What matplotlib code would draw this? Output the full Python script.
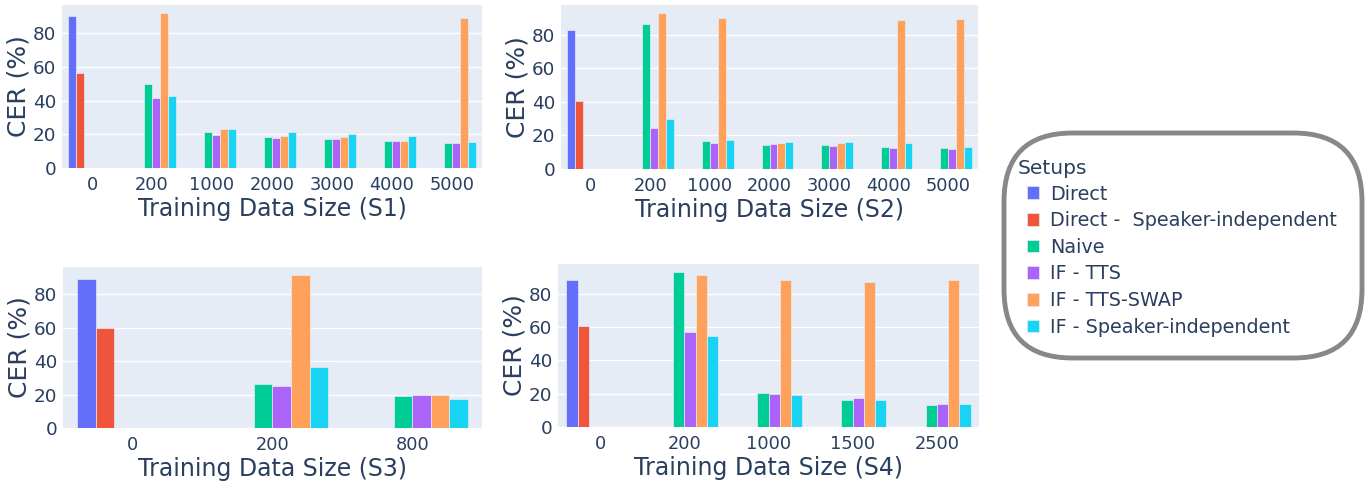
import matplotlib.pyplot as plt
import numpy as np
from matplotlib.patches import FancyBboxPatch

plt.rcParams['font.family'] = ['DejaVu Sans']

setups = ["Direct", "Direct -  Speaker-independent", "Naive", "IF - TTS",
          "IF - TTS-SWAP", "IF - Speaker-independent"]
colors = ["#636EFA", "#EF553B", "#00CC96", "#AB63FA", "#FFA15A", "#19D3F3"]

# rows follow setups order, columns follow the size labels (0 = not run)
s1_sizes = ["0", "200", "1000", "2000", "3000", "4000", "5000"]
s1_cer = [
    [90.6, 0, 0, 0, 0, 0, 0],
    [56.2, 0, 0, 0, 0, 0, 0],
    [0, 50.0, 21.4, 18.6, 17.4, 15.8, 14.8],
    [0, 41.6, 19.8, 18.0, 17.0, 16.2, 15.0],
    [0, 92.0, 23.4, 19.2, 18.4, 16.2, 89.0],
    [0, 42.6, 23.4, 21.6, 20.0, 19.0, 15.4],
]

s2_sizes = ["0", "200", "1000", "2000", "3000", "4000", "5000"]
s2_cer = [
    [83.0, 0, 0, 0, 0, 0, 0],
    [40.3, 0, 0, 0, 0, 0, 0],
    [0, 86.5, 16.9, 14.5, 14.2, 13.0, 12.4],
    [0, 24.4, 15.3, 14.7, 13.6, 12.8, 12.2],
    [0, 92.8, 90.0, 15.5, 15.5, 88.5, 89.4],
    [0, 29.5, 17.3, 16.3, 16.3, 15.5, 13.0],
]

s3_sizes = ["0", "200", "800"]
s3_cer = [
    [89.4, 0, 0],
    [60.2, 0, 0],
    [0, 26.2, 19.4],
    [0, 25.0, 19.8],
    [0, 91.6, 19.6],
    [0, 36.4, 17.6],
]

s4_sizes = ["0", "200", "1000", "1500", "2500"]
s4_cer = [
    [88.7, 0, 0, 0, 0],
    [60.5, 0, 0, 0, 0],
    [0, 93.1, 20.6, 16.1, 13.1],
    [0, 57.2, 20.0, 17.5, 13.9],
    [0, 91.3, 88.3, 87.3, 88.3],
    [0, 55.0, 19.1, 16.1, 13.9],
]

panels = [
    ("S1", s1_sizes, s1_cer, [62, 5, 420, 163]),
    ("S2", s2_sizes, s2_cer, [561, 5, 417, 164]),
    ("S3", s3_sizes, s3_cer, [63, 267, 419, 161]),
    ("S4", s4_sizes, s4_cer, [558, 264, 421, 163]),
]

W, H = 1371, 484
text_col = "#2a3f5f"
fig = plt.figure(figsize=(W / 100, H / 100), dpi=100)

handles = []
for name, sizes, cer, (px, py, pw, ph) in panels:
    ax = fig.add_axes([px / W, 1 - (py + ph) / H, pw / W, ph / H])
    ax.set_facecolor("#E5ECF6")
    x = np.arange(len(sizes))
    w = 0.8 / len(setups)
    bars = []
    for i, (vals, c) in enumerate(zip(cer, colors)):
        b = ax.bar(x + (i - 2.5) * w, vals, w, color=c, edgecolor="#E5ECF6", linewidth=0.5, zorder=3)
        bars.append(b)
    handles = bars
    top = max(max(r) for r in cer)
    ax.set_ylim(0, top * 1.053)
    ax.set_xlim(-0.5, len(sizes) - 0.5)
    ax.set_yticks([0, 20, 40, 60, 80])
    ax.set_xticks(x)
    ax.set_xticklabels(sizes)
    ax.grid(axis="y", color="white", linewidth=1, zorder=0)
    ax.set_axisbelow(True)
    for s in ax.spines.values():
        s.set_visible(False)
    ax.tick_params(axis="x", length=0, labelsize=12.8, colors=text_col, pad=6)
    ax.tick_params(axis="y", length=0, labelsize=13.2, colors=text_col, pad=4)
    ax.set_xlabel(f"Training Data Size ({name})", fontsize=17, color=text_col, labelpad=2)
    ax.set_ylabel("CER (%)", fontsize=18, color=text_col, labelpad=2)

# legend box
box = FancyBboxPatch((1004 / W, 1 - 358 / H), 358 / W, 225 / H,
                     boxstyle="round,pad=0,rounding_size=0.05",
                     transform=fig.transFigure, facecolor="white",
                     edgecolor="#888888", linewidth=3.5, mutation_aspect=W / H)
fig.patches.append(box)

fig.text(1018 / W, 1 - 168 / H, "Setups", fontsize=14.5, color=text_col, va="center", ha="left")
leg = fig.legend(handles, setups, loc="upper left", bbox_to_anchor=(1017 / W, 1 - 175 / H),
                 frameon=False, fontsize=13.75,
                 handlelength=0.65, handleheight=0.65, handletextpad=0.6,
                 labelspacing=0.40, borderpad=0)
for t in leg.get_texts():
    t.set_color(text_col)

fig.savefig("out.png", dpi=100)
